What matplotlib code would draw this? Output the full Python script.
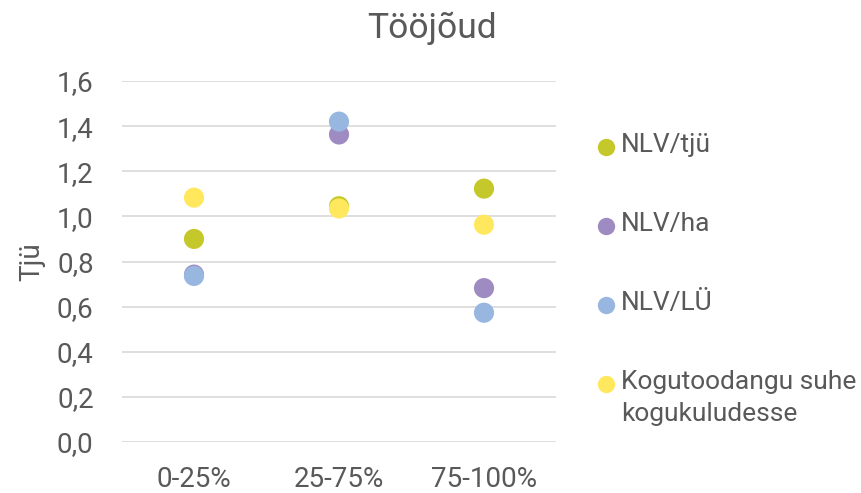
import matplotlib.pyplot as plt

# andmed
categories = ['0-25%', '25-75%', '75-100%']
nlv_tju = [0.90, 1.045, 1.123]
nlv_ha = [0.742, 1.363, 0.682]
nlv_lu = [0.736, 1.42, 0.573]
kogutoodang = [1.083, 1.035, 0.963]

series_names = ['NLV/tjü', 'NLV/ha', 'NLV/LÜ', 'Kogutoodangu suhe\nkogukuludesse']
series_colors = ['#C5C82B', '#9E8BC1', '#97B6E0', '#FFE85E']
yticks = [0.0, 0.2, 0.4, 0.6, 0.8, 1.0, 1.2, 1.4, 1.6]

TEXT = '#595959'
GRID = '#D9D9D9'

plt.rcParams['font.family'] = ['Roboto', 'DejaVu Sans']

W, H = 861, 493
fig = plt.figure(figsize=(W / 100, H / 100), dpi=100)
ax = fig.add_axes([121.5 / W, 1 - 442 / H, 435 / W, (442 - 81) / H])

x = list(range(len(categories)))
for vals, color in zip([nlv_tju, nlv_ha, nlv_lu, kogutoodang], series_colors):
    ax.scatter(x, vals, s=210, color=color, edgecolors='none', zorder=3)

ax.set_xlim(-0.5, 2.5)
ax.set_ylim(0, 1.6)
ax.set_yticks(yticks)
ax.set_yticklabels([f'{t:.1f}'.replace('.', ',') for t in yticks])
ax.set_xticks(x)
ax.set_xticklabels(categories)
ax.grid(axis='y', color=GRID, linewidth=1.2)
ax.set_axisbelow(True)
for s in ax.spines.values():
    s.set_visible(False)
ax.tick_params(length=0, labelsize=20, labelcolor=TEXT)
ax.tick_params(axis='y', pad=20)
ax.tick_params(axis='x', pad=17)

ax.set_ylabel('Tjü', fontsize=20, color=TEXT)
ax.yaxis.set_label_coords(-0.175, 0.5)

fig.text(432 / W, 1 - 28 / H, 'Tööjõud', fontsize=25.5, color=TEXT,
         ha='center', va='center')

# legend, drawn by hand so the two-line entry lines up with its first row
leg_y = [147, 226, 305, 384]
for name, color, yy in zip(series_names, series_colors, leg_y):
    fig.add_artist(plt.Line2D([606 / W], [1 - yy / H], marker='o', markersize=12.5,
                              color=color, markeredgewidth=0, linestyle='none'))
    fig.text(621 / W, 1 - (yy - 14) / H, name, fontsize=19, color=TEXT,
             ha='left', va='top', linespacing=1.4)

fig.savefig('out.png', dpi=100)
